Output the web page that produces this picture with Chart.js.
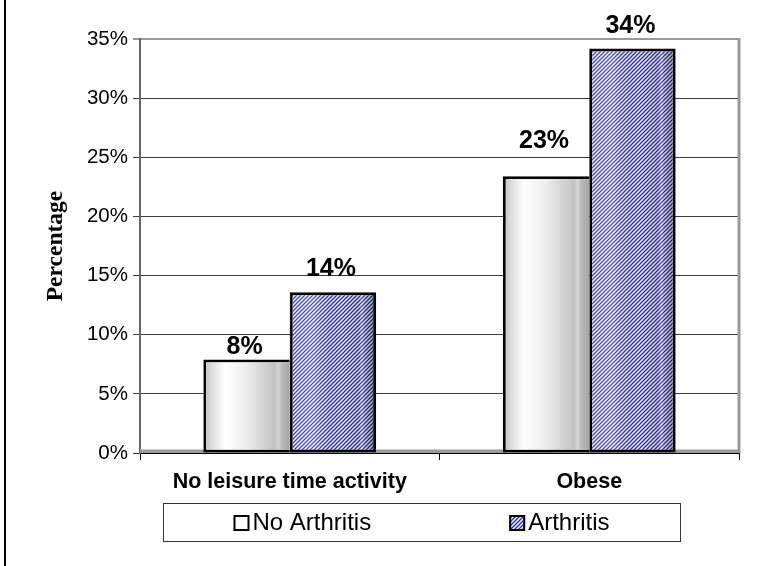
<!DOCTYPE html>
<html>
<head>
<meta charset="utf-8">
<script src="https://cdn.jsdelivr.net/npm/chart.js@4"></script>
<style>
  html, body { margin: 0; padding: 0; background: #fff; }
  canvas { display: block; }
</style>
</head>
<body>
<canvas id="chart" width="769" height="566"></canvas>
<script>
// Share of adults, with and without arthritis
const categories = ['No leisure time activity', 'Obese'];
const seriesNames = ['No Arthritis', 'Arthritis'];
const noArthritisPct = [7.9, 23.4];
const arthritisPct = [13.6, 34.2];
const yTickValues = [0, 5, 10, 15, 20, 25, 30, 35];

const SANS = "'Liberation Sans', Arial, Helvetica, sans-serif";
const SERIF = "'Liberation Serif', 'Times New Roman', serif";

const canvas = document.getElementById('chart');
const ctx = canvas.getContext('2d');

// Diagonal blue hatching used for the Arthritis series
function makeHatch() {
  const t = document.createElement('canvas');
  t.width = 4; t.height = 4;
  const g = t.getContext('2d');
  g.fillStyle = '#eeeefa';
  g.fillRect(0, 0, 4, 4);
  g.strokeStyle = '#303096';
  g.lineWidth = 1.25;
  g.beginPath();
  g.moveTo(-1, 5); g.lineTo(5, -1);
  g.moveTo(-1, 1); g.lineTo(1, -1);
  g.moveTo(3, 5); g.lineTo(5, 3);
  g.stroke();
  return ctx.createPattern(t, 'repeat');
}
const hatch = makeHatch();

// Walls and floor of the plot box
const frame = {
  id: 'frame',
  beforeDatasetsDraw(chart) {
    const { ctx, chartArea: a } = chart;
    ctx.save();
    ctx.fillStyle = '#9a9a9a';
    ctx.fillRect(a.left, a.bottom - 3.5, a.right - a.left, 3.5);
    ctx.strokeStyle = '#9a9a9a';
    ctx.lineWidth = 3;
    ctx.beginPath();
    ctx.moveTo(a.right, a.top - 1);
    ctx.lineTo(a.right, a.bottom);
    ctx.stroke();
    ctx.restore();
  }
};

// Cylinder-like shading on top of each bar, then the value labels
const shading = {
  id: 'shading',
  afterDatasetsDraw(chart, args, opts) {
    const { ctx } = chart;
    chart.data.datasets.forEach((ds, di) => {
      const meta = chart.getDatasetMeta(di);
      meta.data.forEach((bar, i) => {
        const p = bar.getProps(['x', 'y', 'base', 'width'], true);
        const bw = ds.borderWidth;
        const l = p.x - p.width / 2 + bw.left;
        const r = p.x + p.width / 2 - bw.right;
        const t = p.y + bw.top;
        const b = p.base - bw.bottom;
        const g = ctx.createLinearGradient(l, 0, r, 0);
        if (di === 0) {
          g.addColorStop(0, '#c6c6c6');
          g.addColorStop(0.06, '#dcdcdc');
          g.addColorStop(0.22, '#ffffff');
          g.addColorStop(0.5, '#ebebeb');
          g.addColorStop(0.82, '#c2c2c2');
          g.addColorStop(0.86, '#d6d6d6');
          g.addColorStop(0.9, '#bbbbbb');
          g.addColorStop(1, '#a4a4a4');
        } else {
          g.addColorStop(0, 'rgba(255,255,255,0.10)');
          g.addColorStop(0.25, 'rgba(255,255,255,0.20)');
          g.addColorStop(0.6, 'rgba(0,0,0,0.0)');
          g.addColorStop(0.82, 'rgba(0,0,0,0.12)');
          g.addColorStop(0.86, 'rgba(255,255,255,0.20)');
          g.addColorStop(0.9, 'rgba(0,0,0,0.12)');
          g.addColorStop(1, 'rgba(0,0,0,0.30)');
        }
        ctx.save();
        ctx.fillStyle = g;
        ctx.fillRect(l, t, r - l, b - t);
        ctx.restore();
      });
    });
    // value labels
    ctx.save();
    ctx.font = 'bold 25px ' + SANS;
    ctx.fillStyle = '#000';
    ctx.textAlign = 'center';
    ctx.textBaseline = 'alphabetic';
    chart.data.datasets.forEach((ds, di) => {
      const meta = chart.getDatasetMeta(di);
      meta.data.forEach((bar, i) => {
        const p = bar.getProps(['x', 'y'], true);
        const gap = opts.gaps[di][i];
        ctx.fillText(Math.round(ds.data[i]) + '%', p.x - 2, p.y - gap);
      });
    });
    ctx.restore();
  }
};

// Boxed legend under the axis, plus the outer left rule
const boxLegend = {
  id: 'boxLegend',
  afterDraw(chart, args, o) {
    const { ctx } = chart;
    ctx.save();
    ctx.strokeStyle = '#000';
    ctx.lineWidth = 2;
    ctx.beginPath();
    ctx.moveTo(5, 0);
    ctx.lineTo(5, chart.height);
    ctx.stroke();

    ctx.fillStyle = '#fff';
    ctx.fillRect(o.left, o.top, o.right - o.left, o.bottom - o.top);
    ctx.strokeStyle = '#333';
    ctx.lineWidth = 1;
    ctx.strokeRect(o.left + 0.5, o.top + 0.5, o.right - o.left, o.bottom - o.top);

    ctx.font = o.fontSize + 'px ' + SANS;
    ctx.textBaseline = 'middle';
    ctx.textAlign = 'left';
    const items = chart.data.datasets.map(ds => ({
      label: ds.label, fill: ds.legendFill, w: ctx.measureText(ds.label).width
    }));
    const itemW = items.map(it => o.box + o.gap + it.w);
    const total = itemW.reduce((s, w) => s + w, 0) + o.spacing * (items.length - 1);
    let x = (o.left + o.right) / 2 - total / 2;
    const cy = (o.top + o.bottom) / 2 + 1;
    items.forEach((it, k) => {
      ctx.fillStyle = it.fill;
      ctx.fillRect(x, cy - o.box / 2, o.box, o.box);
      ctx.strokeStyle = '#000';
      ctx.lineWidth = 2;
      ctx.strokeRect(x + 1, cy - o.box / 2 + 1, o.box - 2, o.box - 2);
      ctx.fillStyle = '#000';
      ctx.fillText(it.label, x + o.box + o.gap, cy);
      x += itemW[k] + o.spacing;
    });
    ctx.restore();
  }
};

new Chart(ctx, {
  type: 'bar',
  data: {
    labels: categories,
    datasets: [
      {
        label: seriesNames[0],
        data: noArthritisPct,
        backgroundColor: '#ffffff',
        legendFill: '#ffffff',
        borderColor: '#000',
        borderWidth: { top: 3, left: 3, bottom: 3, right: 0 },
        borderSkipped: false
      },
      {
        label: seriesNames[1],
        data: arthritisPct,
        backgroundColor: hatch,
        legendFill: hatch,
        borderColor: '#000',
        borderWidth: { top: 3, left: 3, bottom: 3, right: 3 },
        borderSkipped: false
      }
    ]
  },
  options: {
    responsive: false,
    animation: false,
    events: [],
    layout: { padding: { top: 39, right: 30, left: 0, bottom: 0 } },
    datasets: { bar: { categoryPercentage: 0.577, barPercentage: 1 } },
    plugins: {
      legend: { display: false },
      tooltip: { enabled: false },
      shading: { gaps: [[6, 28], [16, 15]] },
      boxLegend: { left: 163, right: 680, top: 503, bottom: 541, box: 16, gap: 3, spacing: 138, fontSize: 24 }
    },
    scales: {
      x: {
        grid: { offset: true, drawOnChartArea: false, drawTicks: true, tickLength: 7, color: '#000', lineWidth: 1 },
        border: { display: true, color: '#000', width: 2 },
        ticks: { color: '#000', padding: 9, maxRotation: 0, font: { family: SANS, size: 21.5, weight: 'bold' } },
        afterFit(scale) { scale.height = 566 - 453; }
      },
      y: {
        min: 0,
        max: 35,
        afterBuildTicks(scale) { scale.ticks = yTickValues.map(v => ({ value: v })); },
        grid: {
          color: c => (c.tick && c.tick.value === 35 ? '#999' : '#3a3a3a'),
          lineWidth: c => (c.tick && c.tick.value === 35 ? 2 : 1),
          tickLength: 7,
          drawTicks: true
        },
        border: { display: true, color: '#666', width: 2 },
        ticks: {
          color: '#000',
          padding: 5,
          font: { family: SANS, size: 20.5 },
          callback: v => v + '%'
        },
        title: {
          display: true,
          text: 'Percentage',
          color: '#000',
          font: { family: SERIF, size: 23.5, weight: 'bold' },
          padding: { top: 42, bottom: 0 }
        },
        afterFit(scale) { scale.width = 140; }
      }
    }
  },
  plugins: [frame, shading, boxLegend]
});
</script>
</body>
</html>
